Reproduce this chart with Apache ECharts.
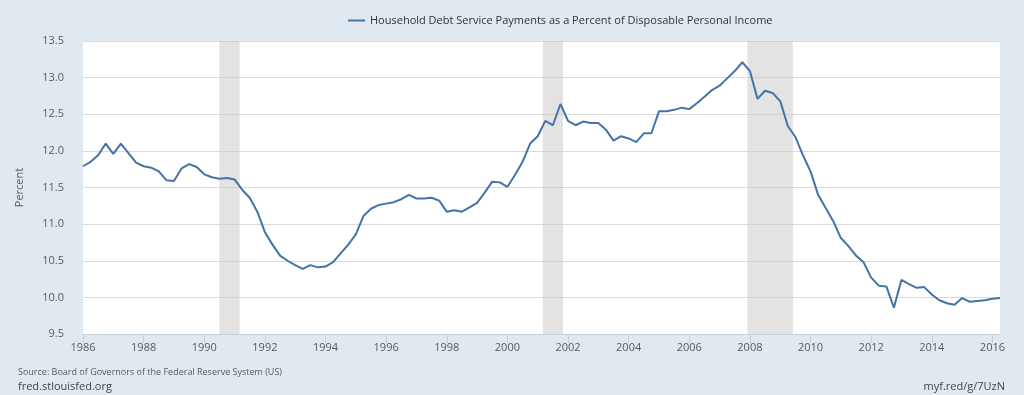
<!DOCTYPE html>
<html>
<head>
<meta charset="utf-8">
<script src="https://cdn.jsdelivr.net/npm/echarts@6/dist/echarts.min.js"></script>
<style>
html,body{margin:0;padding:0;background:#e1e9f0;}
#chart{width:1024px;height:395px;}
</style>
</head>
<body>
<div id="chart"></div>
<script>
// Quarterly data, first quarter = 1986 Q1
const startYear = 1986;
const seriesName = "Household Debt Service Payments as a Percent of Disposable Personal Income";
const debtServicePct = [
  11.79, 11.85, 11.94, 12.10, 11.96, 12.10, 11.97, 11.84,
  11.79, 11.77, 11.72, 11.60, 11.59, 11.76, 11.82, 11.78,
  11.68, 11.64, 11.62, 11.63, 11.61, 11.47, 11.36, 11.17,
  10.89, 10.72, 10.57, 10.50, 10.44, 10.39, 10.44, 10.41,
  10.42, 10.48, 10.60, 10.72, 10.86, 11.11, 11.21, 11.26,
  11.28, 11.30, 11.34, 11.40, 11.35, 11.35, 11.36, 11.32,
  11.17, 11.19, 11.17, 11.23, 11.29, 11.43, 11.58, 11.57,
  11.51, 11.67, 11.85, 12.10, 12.20, 12.41, 12.35, 12.64,
  12.41, 12.35, 12.40, 12.38, 12.38, 12.29, 12.14, 12.20,
  12.17, 12.12, 12.24, 12.24, 12.54, 12.54, 12.56, 12.59,
  12.57, 12.65, 12.74, 12.83, 12.89, 12.99, 13.09, 13.21,
  13.09, 12.71, 12.82, 12.79, 12.68, 12.34, 12.19, 11.94,
  11.72, 11.40, 11.22, 11.04, 10.81, 10.70, 10.57, 10.48,
  10.27, 10.16, 10.15, 9.86, 10.24, 10.18, 10.13, 10.14,
  10.04, 9.96, 9.92, 9.90, 9.99, 9.94, 9.95, 9.96,
  9.98, 9.99
];
// Recessions (decimal years): Jul 1990–Mar 1991, Mar 2001–Nov 2001, Dec 2007–Jun 2009
const recessionStarts = [1990 + 6/12, 2001 + 2/12, 2007 + 11/12];
const recessionEnds   = [1991 + 2/12, 2001 + 10/12, 2009 + 5/12];
const yTicks = { min: 9.5, max: 13.5, step: 0.5 };
const xTicks = { min: 1986, max: 2016.25, step: 2 };

const points = debtServicePct.map((v, i) => [startYear + i / 4, v]);
const areas = recessionStarts.map((s, k) => [{ xAxis: s }, { xAxis: recessionEnds[k] }]);

const chart = echarts.init(document.getElementById('chart'), null, { renderer: 'canvas' });
const font = '"Open Sans", "DejaVu Sans", sans-serif';
chart.setOption({
  animation: false,
  backgroundColor: '#e1e9f0',
  textStyle: { fontFamily: font },
  grid: { left: 83, right: 24, top: 41, bottom: 61, show: true, backgroundColor: '#ffffff', borderWidth: 0 },
  legend: {
    top: 10, left: 343,
    icon: 'rect', itemWidth: 17, itemHeight: 2, itemGap: 6,
    textStyle: { fontSize: 11, color: '#333333', fontFamily: font },
    data: [seriesName]
  },
  xAxis: {
    type: 'value', min: xTicks.min, max: xTicks.max, interval: xTicks.step,
    axisLine: { show: true, lineStyle: { color: '#c4d0dc', width: 1 } },
    axisTick: { show: true, length: 9, lineStyle: { color: '#c4d0dc' } },
    axisLabel: { color: '#595959', fontSize: 11, margin: 8, formatter: v => String(Math.round(v)), showMaxLabel: false },
    splitLine: { show: false }
  },
  yAxis: {
    type: 'value', min: yTicks.min, max: yTicks.max, interval: yTicks.step,
    name: 'Percent', nameLocation: 'middle', nameGap: 58, nameRotate: 90,
    nameTextStyle: { color: '#595959', fontSize: 11 },
    axisLine: { show: false }, axisTick: { show: false },
    axisLabel: { color: '#595959', fontSize: 11, margin: 19, formatter: v => v.toFixed(1) },
    splitLine: { show: true, lineStyle: { color: '#dadada', width: 1 } }
  },
  series: [{
    name: seriesName, type: 'line', data: points,
    showSymbol: false, symbol: 'none',
    lineStyle: { color: '#4572a7', width: 2 },
    itemStyle: { color: '#4572a7' },
    markArea: { silent: true, itemStyle: { color: 'rgba(200,200,200,0.5)' }, data: areas }
  }],
  graphic: [
    { type: 'text', left: 18, top: 368, style: { text: 'Source: Board of Governors of the Federal Reserve System (US)', fill: '#595959', font: '9px ' + font } },
    { type: 'text', left: 18, top: 381, style: { text: 'fred.stlouisfed.org', fill: '#444444', font: '11px ' + font } },
    { type: 'text', right: 19, top: 381, style: { text: 'myf.red/g/7UzN', fill: '#444444', font: '11px ' + font } }
  ]
});
</script>
</body>
</html>
